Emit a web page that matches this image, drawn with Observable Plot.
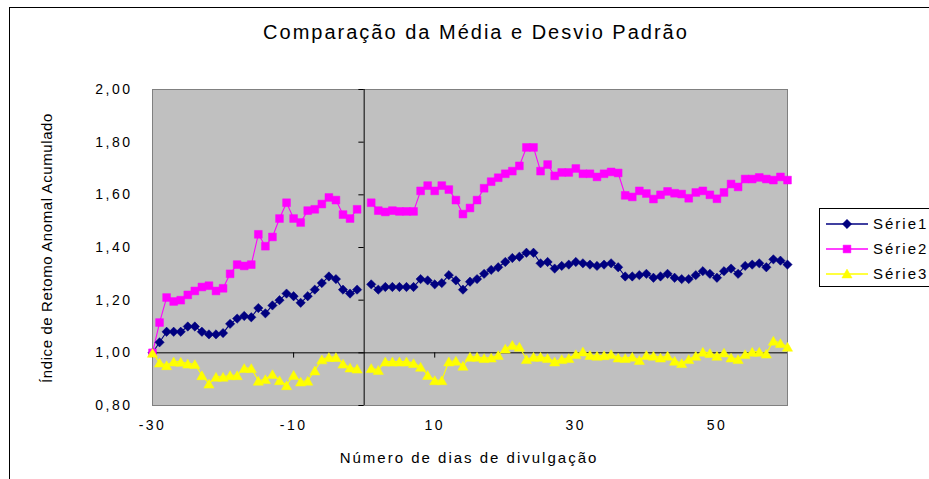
<!DOCTYPE html>
<html><head><meta charset="utf-8">
<script src="https://cdn.jsdelivr.net/npm/d3@7"></script>
<script src="https://cdn.jsdelivr.net/npm/@observablehq/plot@0.6"></script>
<style>
html,body{margin:0;padding:0;background:#fff;overflow:hidden}
#wrap{position:relative;width:929px;height:479px;overflow:hidden;font-family:"Liberation Sans",Arial,sans-serif;background:#fff}
#border{position:absolute;left:9px;top:7px;width:1000px;height:1000px;border:1px solid #000;box-sizing:border-box}
#chart{position:absolute;left:0;top:0}
#overlay{position:absolute;left:0;top:0}
#chart svg g[aria-label$="tick label"] text{letter-spacing:2.5px}
</style></head><body>
<div id="wrap"><div id="border"></div><div id="chart"></div><svg id="overlay" width="929" height="479"></svg></div>
<script>
const title = "Comparação da Média e Desvio Padrão";
const xLabel = "Número de dias de divulgação";
const yLabel = "Índice de Retomo Anomal Acumulado";
const seriesNames = ["Série1", "Série2", "Série3"];
const colors = ["#000080", "#FF00FF", "#FFFF00"];
const xTicks = [-30, -10, 10, 30, 50];
const yTicks = [0.8, 1.0, 1.2, 1.4, 1.6, 1.8, 2.0];
const days = d3.range(-30, 61);

// values for days -30..60 (no value on day 0)
const serie1 = [
  1.00, 1.04, 1.08, 1.08, 1.08, 1.10, 1.10, 1.08, 1.07, 1.07,
  1.075, 1.11, 1.13, 1.14, 1.135, 1.17, 1.15, 1.18, 1.20, 1.225,
  1.215, 1.19, 1.215, 1.24, 1.265, 1.29, 1.28, 1.24, 1.225, 1.24,
  null,
  1.26, 1.24, 1.25, 1.25, 1.25, 1.25, 1.25, 1.28, 1.275, 1.26,
  1.265, 1.295, 1.275, 1.24, 1.27, 1.28, 1.30, 1.315, 1.325, 1.345,
  1.36, 1.365, 1.38, 1.38, 1.34, 1.345, 1.32, 1.33, 1.335, 1.345,
  1.34, 1.335, 1.33, 1.335, 1.34, 1.325, 1.29, 1.29, 1.295, 1.30,
  1.285, 1.29, 1.30, 1.285, 1.28, 1.28, 1.295, 1.31, 1.30, 1.285,
  1.31, 1.32, 1.30, 1.33, 1.335, 1.34, 1.325, 1.355, 1.35, 1.335
];
const serie2 = [
  1.00, 1.115, 1.21, 1.195, 1.20, 1.22, 1.235, 1.25, 1.255, 1.235,
  1.245, 1.30, 1.335, 1.33, 1.335, 1.45, 1.405, 1.44, 1.51, 1.57,
  1.51, 1.495, 1.54, 1.545, 1.565, 1.59, 1.58, 1.525, 1.51, 1.545,
  null,
  1.57, 1.54, 1.535, 1.54, 1.537, 1.537, 1.537, 1.615, 1.635, 1.615,
  1.635, 1.62, 1.58, 1.527, 1.55, 1.58, 1.625, 1.65, 1.665, 1.68,
  1.69, 1.71, 1.78, 1.78, 1.69, 1.715, 1.672, 1.685, 1.685, 1.70,
  1.68, 1.68, 1.668, 1.68, 1.687, 1.683, 1.598, 1.592, 1.615, 1.605,
  1.584, 1.60, 1.613, 1.606, 1.603, 1.587, 1.609, 1.615, 1.60, 1.585,
  1.609, 1.641, 1.63, 1.66, 1.66, 1.666, 1.66, 1.656, 1.668, 1.656
];
const serie3 = [
  1.00, 0.963, 0.953, 0.967, 0.966, 0.959, 0.957, 0.915, 0.883, 0.909,
  0.909, 0.915, 0.915, 0.942, 0.942, 0.894, 0.90, 0.919, 0.896, 0.877,
  0.916, 0.891, 0.894, 0.933, 0.975, 0.984, 0.984, 0.959, 0.944, 0.940,
  null,
  0.942, 0.935, 0.967, 0.967, 0.967, 0.967, 0.961, 0.947, 0.916, 0.896,
  0.896, 0.967, 0.970, 0.951, 0.985, 0.985, 0.980, 0.982, 0.992, 1.016,
  1.030, 1.023, 0.976, 0.985, 0.985, 0.980, 0.967, 0.976, 0.980, 0.995,
  1.005, 0.992, 0.989, 0.991, 0.995, 0.982, 0.980, 0.985, 0.973, 0.992,
  0.989, 0.982, 0.989, 0.970, 0.961, 0.976, 0.989, 1.004, 0.999, 0.989,
  1.001, 0.982, 0.976, 0.995, 1.004, 1.004, 0.997, 1.046, 1.037, 1.023
];

const allSeries = [serie1, serie2, serie3];
const rows = [];
allSeries.forEach((arr, k) => arr.forEach((v, i) => rows.push({day: days[i], value: v, series: seriesNames[k]})));
const bySeries = k => rows.filter(r => r.series === seriesNames[k]);

const fmt = d => d.toFixed(2).replace(".", ",");

const chart = Plot.plot({
  width: 929,
  height: 479,
  marginLeft: 152,
  marginRight: 142,
  marginTop: 89,
  marginBottom: 74,
  style: {fontFamily: "'Liberation Sans', Arial, sans-serif", fontSize: "14px", background: "transparent", color: "#000"},
  x: {domain: [-30, 60]},
  y: {domain: [0.8, 2.0]},
  color: {domain: seriesNames, range: colors},
  marks: [
    Plot.frame({fill: "#C0C0C0", stroke: "#808080"}),
    Plot.ruleY([1], {stroke: "#000", strokeWidth: 1}),
    Plot.ruleX([0], {stroke: "#000", strokeWidth: 1}),
    Plot.ruleY(yTicks, {y: d => d, x1: -0.75, x2: 0, stroke: "#000"}),
    Plot.ruleX(xTicks, {x: d => d, y1: 1, y2: 0.98, stroke: "#000"}),
    Plot.axisY({ticks: yTicks, anchor: "left", tickSize: 0, tickPadding: 20, tickFormat: fmt, label: null, fontSize: 14}),
    Plot.axisX({ticks: xTicks, anchor: "bottom", tickSize: 0, tickPadding: 15, tickFormat: d => String(d), label: null, fontSize: 14}),
    Plot.line(rows, {x: "day", y: "value", z: "series", stroke: "series", strokeWidth: 1.1}),
    Plot.dot(bySeries(0), {x: "day", y: "value", symbol: "diamond2", r: 4.2, fill: colors[0], stroke: colors[0], strokeWidth: 0.5}),
    Plot.dot(bySeries(1), {x: "day", y: "value", symbol: "square", r: 4.4, fill: colors[1], stroke: colors[1], strokeWidth: 0.5}),
    Plot.dot(bySeries(2), {x: "day", y: "value", symbol: "triangle", r: 3.8, fill: colors[2], stroke: colors[2], strokeWidth: 0.5, dy: 1.5})
  ]
});
document.getElementById("chart").appendChild(chart);

// texts and legend
const ov = d3.select("#overlay").style("font-family", "'Liberation Sans', Arial, sans-serif");
ov.append("text").attr("x", 476).attr("y", 39).attr("text-anchor", "middle")
  .attr("font-size", 20).attr("letter-spacing", "2px").attr("fill", "#000").text(title);
ov.append("text").attr("x", 469).attr("y", 463).attr("text-anchor", "middle")
  .attr("font-size", 15).attr("letter-spacing", "2px").attr("fill", "#000").text(xLabel);
ov.append("text").attr("transform", "translate(52,248) rotate(-90)").attr("text-anchor", "middle")
  .attr("font-size", 15).attr("letter-spacing", "0.6px").attr("fill", "#000").text(yLabel);

const lg = ov.append("g");
lg.append("rect").attr("x", 819.5).attr("y", 208.5).attr("width", 200).attr("height", 78)
  .attr("fill", "#fff").attr("stroke", "#000");
const sym = [d3.symbolDiamond2, d3.symbolSquare, d3.symbolTriangle];
const symSize = [55, 60, 45];
seriesNames.forEach((name, k) => {
  const cy = 224 + k * 25;
  lg.append("line").attr("x1", 826).attr("x2", 868).attr("y1", cy).attr("y2", cy)
    .attr("stroke", colors[k]).attr("stroke-width", 1.5);
  lg.append("path").attr("d", d3.symbol(sym[k], symSize[k])())
    .attr("transform", `translate(847,${cy + (k === 2 ? 1 : 0)})`)
    .attr("fill", colors[k]).attr("stroke", colors[k]).attr("stroke-width", 0.5);
  lg.append("text").attr("x", 873).attr("y", cy + 5).attr("font-size", 15)
    .attr("letter-spacing", "2px").attr("fill", "#000").text(name);
});
</script>
</body></html>
